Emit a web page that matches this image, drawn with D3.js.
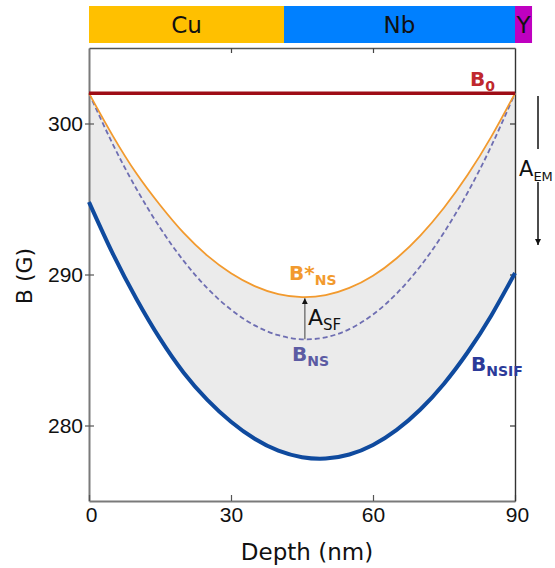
<!DOCTYPE html>
<html><head><meta charset="utf-8">
<script src="https://cdn.jsdelivr.net/npm/d3@7/dist/d3.min.js"></script>
<style>body{margin:0;background:#fff}</style>
</head><body>
<svg id="chart" width="555" height="568"></svg>
<script>
// ---- data ----
const depth   = [0,5,10,15,20,25,30,35,40,45,50,55,60,65,70,75,80,85,90];
const bStarNS = [302.0,299.2,296.7,294.6,292.75,291.25,290.08,289.23,288.7,288.5,288.63,289.11,289.92,291.08,292.58,294.42,296.6,299.13,302.0];
const bNS     = [302.0,298.65,295.68,293.1,290.9,289.09,287.67,286.63,285.98,285.71,285.84,286.38,287.35,288.74,290.55,292.78,295.43,298.51,302.0];
const bNSIF   = [294.8,291.4,288.4,285.75,283.5,281.7,280.25,279.12,278.33,277.9,277.81,278.08,278.71,279.71,281.06,282.77,284.85,287.29,290.1];
const b0Value = 302;
const layerNames  = ["Cu","Nb","Y"];
const layerStarts = [0,41.2,90];
const layerEnds   = [41.2,90,93.6];
const xTicks = [0,30,60,90];
const yTicks = [280,290,300];
const asfDepth = 45.6;

// ---- layout ----
const svg = d3.select("#chart");
const x = d3.scaleLinear().domain([0,90]).range([89,515]);
const y = d3.scaleLinear().domain([275,305]).range([501,48]);
const layerColors = ["#FFC000","#0080FF","#BF00C0"];

// top layer bar
const bar = svg.append("g");
bar.selectAll("rect").data(layerNames).join("rect")
  .attr("x",(d,i)=>x(layerStarts[i])).attr("width",(d,i)=>x(layerEnds[i])-x(layerStarts[i]))
  .attr("y",6).attr("height",37).attr("fill",(d,i)=>layerColors[i]);
bar.selectAll("text").data(layerNames).join("text")
  .attr("x",(d,i)=>(x(layerStarts[i])+x(layerEnds[i]))/2).attr("y",33)
  .attr("text-anchor","middle").attr("font-family","DejaVu Sans").attr("font-size",23)
  .attr("fill","#111").text(d=>d);

// shaded band between B*NS and BNSIF
const pts = depth.map((d,i)=>({d, top:bStarNS[i], ns:bNS[i], bot:bNSIF[i]}));
svg.append("path").datum(pts)
  .attr("d", d3.area().curve(d3.curveNatural).x(p=>x(p.d)).y0(p=>y(p.bot)).y1(p=>y(p.top)))
  .attr("fill","#ebebeb");

// axes
const fontTick = "Liberation Sans, Arial, sans-serif";
const gL = svg.append("g").attr("transform",`translate(${x(0)},0)`)
  .call(d3.axisLeft(y).tickValues(yTicks).tickSizeOuter(0).tickSizeInner(4).tickPadding(6));
gL.selectAll(".tick line").attr("x1",-4).attr("x2",5).attr("stroke","#555").attr("stroke-width",1.2);
gL.select(".domain").attr("stroke","#7a7a7a").attr("stroke-width",2);
gL.selectAll("text").attr("font-family",fontTick).attr("font-size",21).attr("fill","#111").attr("x",-6);

const gB = svg.append("g").attr("transform",`translate(0,${y(275)})`)
  .call(d3.axisBottom(x).tickValues(xTicks).tickSizeOuter(0).tickSizeInner(-6).tickPadding(6));
gB.selectAll(".tick line").attr("stroke","#555").attr("stroke-width",1.2);
gB.select(".domain").attr("stroke","#7a7a7a").attr("stroke-width",2);
gB.selectAll("text").attr("font-family",fontTick).attr("font-size",21).attr("fill","#111");
gB.selectAll(".tick text").attr("dx",(d)=>d===0?2:(d===90?2:0));

const gR = svg.append("g").attr("transform",`translate(${x(90)},0)`)
  .call(d3.axisRight(y).tickValues(yTicks).tickSizeOuter(0).tickSizeInner(-5).tickFormat(""));
gR.selectAll(".tick line").attr("stroke","#333").attr("stroke-width",1.2);
gR.select(".domain").attr("stroke","#333").attr("stroke-width",1.4);

const gT = svg.append("g").attr("transform",`translate(0,${y(305)})`)
  .call(d3.axisTop(x).tickValues([30,60]).tickSizeOuter(0).tickSizeInner(-5).tickFormat(""));
gT.selectAll(".tick line").attr("stroke","#444").attr("stroke-width",1.2);
gT.select(".domain").attr("stroke","#555").attr("stroke-width",1.4);

// axis titles
svg.append("text").attr("x",307).attr("y",560).attr("text-anchor","middle")
  .attr("font-family","DejaVu Sans").attr("font-size",23).attr("fill","#111").text("Depth (nm)");
svg.append("text").attr("transform","translate(32,276) rotate(-90)").attr("text-anchor","middle")
  .attr("font-family","DejaVu Sans").attr("font-size",22).attr("fill","#111").text("B (G)");

// lines
const line = key => d3.line().curve(d3.curveNatural).x(p=>x(p.d)).y(p=>y(p[key]));
svg.append("path").datum(pts).attr("d",line("ns")).attr("fill","none")
  .attr("stroke","#6e6eb2").attr("stroke-width",1.8).attr("stroke-dasharray","5,3");
svg.append("path").datum(pts).attr("d",line("top")).attr("fill","none")
  .attr("stroke","#f29a2e").attr("stroke-width",1.8);
svg.append("path").datum(pts).attr("d",line("bot")).attr("fill","none")
  .attr("stroke","#0f4a9e").attr("stroke-width",4);
svg.append("line").attr("x1",x(0)).attr("x2",x(90)).attr("y1",y(b0Value)).attr("y2",y(b0Value))
  .attr("stroke","#9e0c16").attr("stroke-width",3.5);

// A_SF arrow
const iA = depth.indexOf(45);
svg.append("defs").append("marker").attr("id","ah").attr("viewBox","0 0 10 10")
  .attr("refX",10).attr("refY",5).attr("markerWidth",4).attr("markerHeight",5).attr("orient","auto-start-reverse")
  .append("path").attr("d","M0,0L10,5L0,10z").attr("fill","#111");
svg.append("line").attr("x1",x(asfDepth)).attr("x2",x(asfDepth))
  .attr("y1",y(bNS[iA])).attr("y2",y(bStarNS[iA])+1)
  .attr("stroke","#777").attr("stroke-width",1.5).attr("marker-end","url(#ah)");

// labels with subscripts
function sublabel(xp, yp, main, sub, color, weight, size, subSize){
  const t = svg.append("text").attr("x",xp).attr("y",yp).attr("font-family","DejaVu Sans")
    .attr("font-weight",weight).attr("fill",color).attr("font-size",size);
  t.append("tspan").text(main);
  t.append("tspan").attr("dy",5).attr("font-size",subSize).text(sub);
  return t;
}
sublabel(470, 86, "B", "0", "#c0282e", "bold", 20, 14);
sublabel(289, 280, "B*", "NS", "#f29a2e", "bold", 20, 14);
sublabel(292, 361, "B", "NS", "#5b5ba3", "bold", 20, 14);
sublabel(471, 371, "B", "NSIF", "#2b3a99", "bold", 20, 14);
sublabel(308, 325, "A", "SF", "#111", "normal", 22, 15);
sublabel(519, 176, "A", "EM", "#111", "normal", 21, 13);

// A_EM arrow
svg.append("line").attr("x1",538).attr("x2",538).attr("y1",96).attr("y2",149)
  .attr("stroke","#111").attr("stroke-width",1.5);
svg.append("line").attr("x1",538).attr("x2",538).attr("y1",182).attr("y2",245)
  .attr("stroke","#111").attr("stroke-width",1.5).attr("marker-end","url(#ah)");
</script>
</body></html>
